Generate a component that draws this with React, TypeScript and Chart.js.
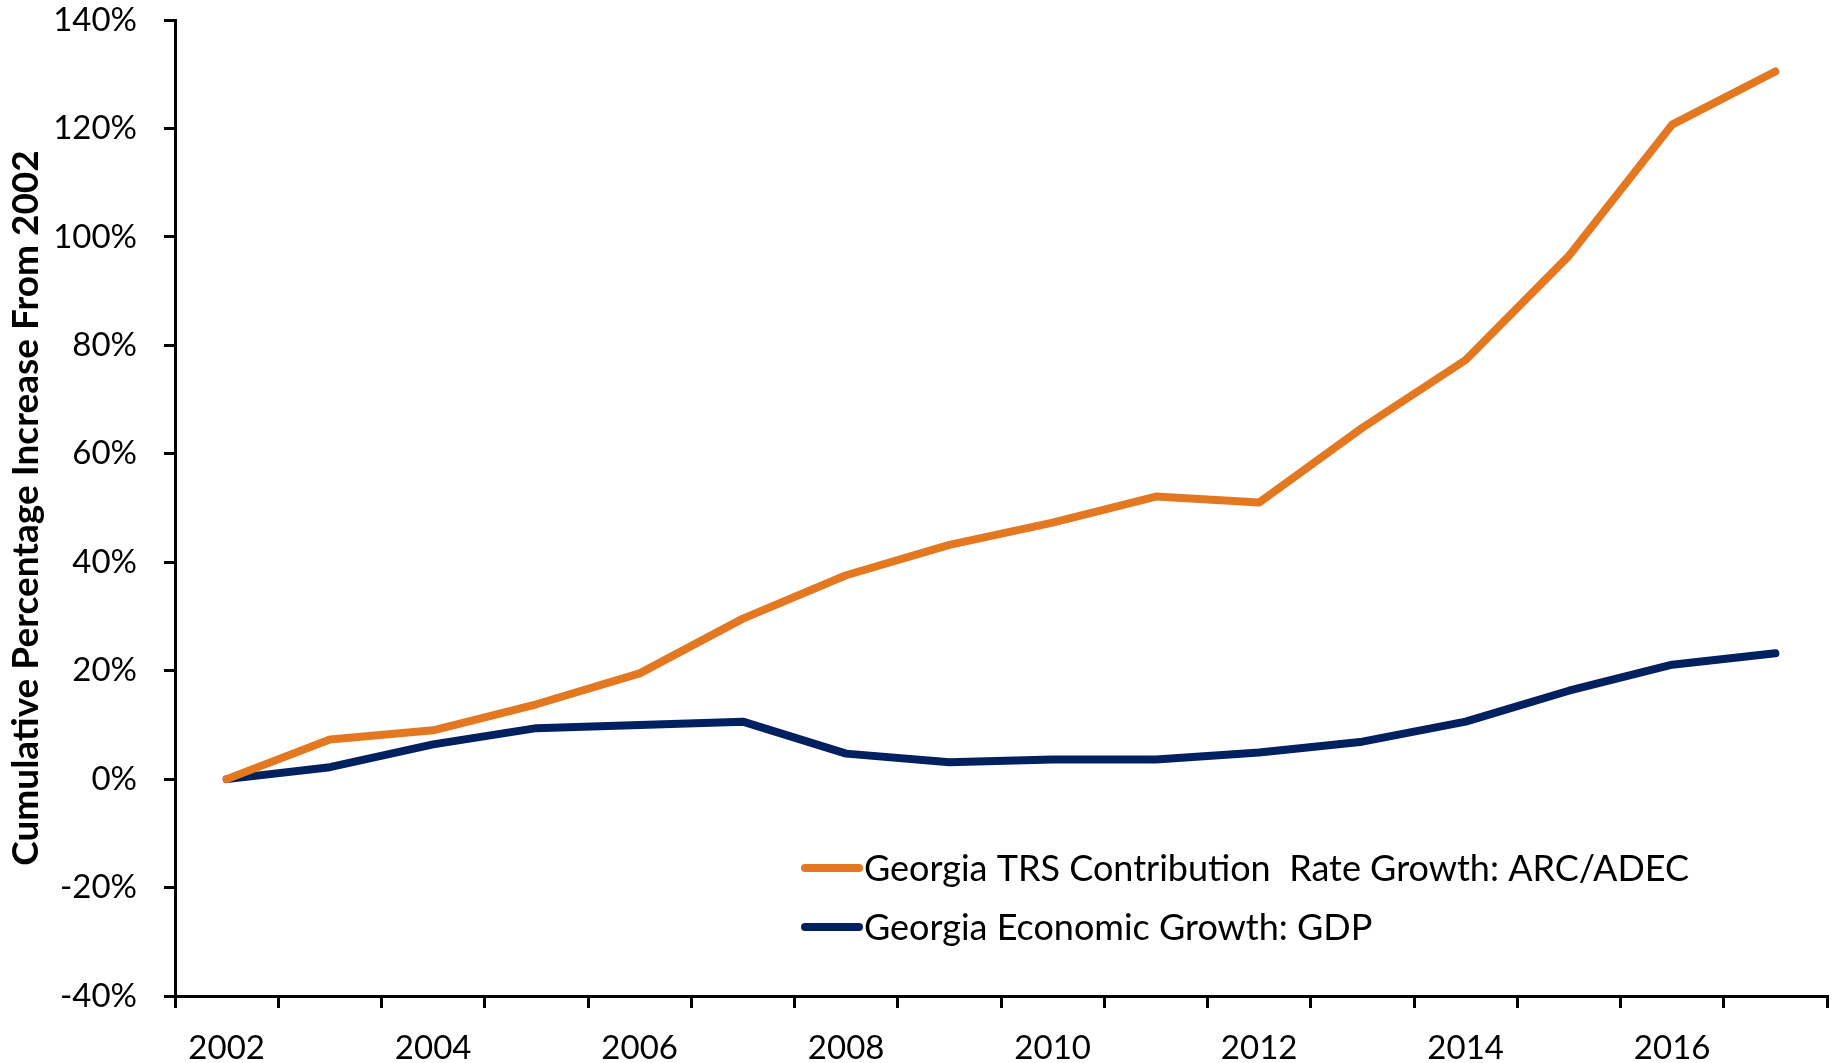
import React, { useEffect, useRef } from "react";
import { Chart, registerables } from "chart.js";

Chart.register(...registerables);

const years = ["2002", "2003", "2004", "2005", "2006", "2007", "2008", "2009", "2010", "2011", "2012", "2013", "2014", "2015", "2016", "2017"];
const labelledYears = ["2002", "2004", "2006", "2008", "2010", "2012", "2014", "2016"];
const trsGrowth = [0, 7.3, 9.0, 13.8, 19.5, 29.6, 37.6, 43.2, 47.3, 52.1, 51.0, 64.8, 77.3, 96.5, 120.7, 130.5];
const gdpGrowth = [0, 2.2, 6.4, 9.4, 10.0, 10.6, 4.7, 3.1, 3.6, 3.6, 4.9, 6.9, 10.6, 16.3, 21.1, 23.2];
const seriesNames = ["Georgia TRS Contribution  Rate Growth: ARC/ADEC", "Georgia Economic Growth: GDP"];
const seriesColors = ["#E47821", "#002060"];
const yTitle = "Cumulative Percentage Increase From 2002";

const FONT = "Lato, 'Liberation Sans', sans-serif";

const insideLegend = {
  id: "insideLegend",
  afterDraw(chart: any, _args: any, opts: any) {
    const ctx = chart.ctx;
    ctx.save();
    ctx.font = `${opts.fontSize}px ${FONT}`;
    ctx.textBaseline = "middle";
    ctx.textAlign = "left";
    chart.data.datasets.forEach((ds: any, i: number) => {
      const y = opts.y + i * opts.rowGap;
      ctx.strokeStyle = ds.borderColor;
      ctx.lineWidth = opts.lineWidth;
      ctx.lineCap = "round";
      ctx.beginPath();
      ctx.moveTo(opts.x, y);
      ctx.lineTo(opts.x + opts.sampleLen, y);
      ctx.stroke();
      ctx.fillStyle = "#000";
      ctx.fillText(ds.label, opts.x + opts.sampleLen + opts.gap, y + 1);
    });
    ctx.restore();
  },
};

export default function App() {
  const canvasRef = useRef<HTMLCanvasElement | null>(null);

  useEffect(() => {
    if (!canvasRef.current) return;
    const chart = new Chart(canvasRef.current, {
      type: "line",
      data: {
        labels: years,
        datasets: [
          {
            label: seriesNames[0],
            data: trsGrowth,
            borderColor: seriesColors[0],
            backgroundColor: seriesColors[0],
            borderWidth: 8,
            borderCapStyle: "round",
            borderJoinStyle: "round",
            pointRadius: 0,
            tension: 0,
          },
          {
            label: seriesNames[1],
            data: gdpGrowth,
            borderColor: seriesColors[1],
            backgroundColor: seriesColors[1],
            borderWidth: 8,
            borderCapStyle: "round",
            borderJoinStyle: "round",
            pointRadius: 0,
            tension: 0,
          },
        ],
      },
      options: {
        animation: false,
        responsive: true,
        maintainAspectRatio: false,
        layout: { padding: { top: 20, right: 9, left: 0, bottom: 0 } },
        plugins: {
          legend: { display: false },
          tooltip: { enabled: false },
          insideLegend: { x: 805, y: 868, rowGap: 59, sampleLen: 54, gap: 5, lineWidth: 8, fontSize: 36 },
        } as any,
        scales: {
          x: {
            type: "category",
            offset: true,
            grid: { display: true, drawOnChartArea: false, drawTicks: true, tickLength: 12, color: "#000", lineWidth: 3, offset: true },
            border: { display: true, color: "#000", width: 3 },
            ticks: {
              autoSkip: false,
              maxRotation: 0,
              color: "#000",
              padding: 21,
              font: { family: FONT, size: 33 },
              callback: (_v: any, i: number) => (labelledYears.includes(years[i]) ? years[i] : ""),
            },
            afterFit: (scale: any) => {
              scale.height = 67;
            },
          },
          y: {
            min: -40,
            max: 140,
            grid: { display: true, drawOnChartArea: false, drawTicks: true, tickLength: 11, color: "#000", lineWidth: 3 },
            border: { display: true, color: "#000", width: 3 },
            ticks: {
              stepSize: 20,
              color: "#000",
              padding: 27,
              font: { family: FONT, size: 33 },
              callback: (v: any) => `${v}%`,
            },
            title: {
              display: true,
              text: yTitle,
              color: "#000",
              font: { family: FONT, size: 37, weight: "bold" },
              padding: { top: 4, bottom: 0 },
            },
            afterFit: (scale: any) => {
              scale.width = 175;
              scale.paddingTop = 0;
              scale.paddingBottom = 0;
            },
          },
        },
      },
      plugins: [insideLegend],
    });
    return () => chart.destroy();
  }, []);

  return (
    <div style={{ position: "absolute", left: 0, top: 0, width: 1836, height: 1063, background: "#fff" }}>
      <canvas ref={canvasRef} />
    </div>
  );
}
